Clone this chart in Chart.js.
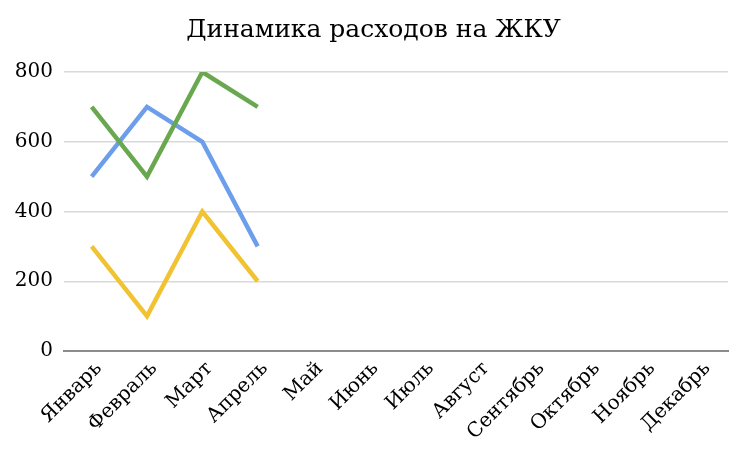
<!DOCTYPE html>
<html>
<head>
<meta charset="utf-8">
<script src="https://cdn.jsdelivr.net/npm/chart.js@4"></script>
<style>
  html, body { margin: 0; padding: 0; background: #ffffff; }
  #wrap { width: 747px; height: 458px; }
</style>
</head>
<body>
<div id="wrap"><canvas id="costChart"></canvas></div>
<script>
// Categories and series
const months = ['Январь', 'Февраль', 'Март', 'Апрель', 'Май', 'Июнь', 'Июль', 'Август', 'Сентябрь', 'Октябрь', 'Ноябрь', 'Декабрь'];
const blueSeries = [500, 700, 600, 300, null, null, null, null, null, null, null, null];
const greenSeries = [700, 500, 800, 700, null, null, null, null, null, null, null, null];
const yellowSeries = [300, 100, 400, 200, null, null, null, null, null, null, null, null];
const yTicks = [0, 200, 400, 600, 800];

const fontFamily = '"DejaVu Serif", "Liberation Serif", serif';

function lineSet(label, data, color) {
  return {
    label: label,
    data: data,
    borderColor: color,
    backgroundColor: color,
    borderWidth: 4.5,
    pointRadius: 0,
    tension: 0,
    spanGaps: false
  };
}

// dataset 0 is painted last (on top), green sits over blue in the reference
new Chart(document.getElementById('costChart'), {
  type: 'line',
  data: {
    labels: months,
    datasets: [
      lineSet('Зелёный', greenSeries, '#6aa84f'),
      lineSet('Синий', blueSeries, '#6d9eeb'),
      lineSet('Жёлтый', yellowSeries, '#f1c232')
    ]
  },
  options: {
    responsive: true,
    maintainAspectRatio: false,
    animation: false,
    layout: { padding: 0 },
    plugins: {
      legend: { display: false },
      tooltip: { enabled: false },
      title: {
        display: true,
        text: 'Динамика расходов на ЖКУ',
        color: '#000000',
        font: { family: fontFamily, size: 25, weight: 'normal' },
        padding: { top: 15, bottom: 27 }
      }
    },
    scales: {
      x: {
        offset: true,
        grid: { display: false, drawTicks: false },
        border: { display: true, color: '#8c8c8c', width: 2 },
        ticks: {
          color: '#000000',
          font: { family: fontFamily, size: 20 },
          minRotation: 45,
          maxRotation: 45,
          autoSkip: false,
          padding: 6,
          labelOffset: 7
        },
        afterFit: function(scale) { scale.height = 107; }
      },
      y: {
        min: 0,
        max: 800,
        afterBuildTicks: function(scale) {
          scale.ticks = yTicks.map(function(v) { return { value: v }; });
        },
        grid: { color: '#d9d9d9', lineWidth: 1.5, drawTicks: false },
        border: { display: false },
        ticks: {
          color: '#000000',
          font: { family: fontFamily, size: 20 },
          padding: 11
        },
        afterFit: function(scale) { scale.width = 64; }
      },
      // empty right margin so the title stays centred on the whole page
      spacer: {
        type: 'linear',
        position: 'right',
        grid: { display: false, drawTicks: false },
        border: { display: false },
        ticks: { display: false },
        afterFit: function(scale) { scale.width = 19; }
      }
    }
  }
});
</script>
</body>
</html>
